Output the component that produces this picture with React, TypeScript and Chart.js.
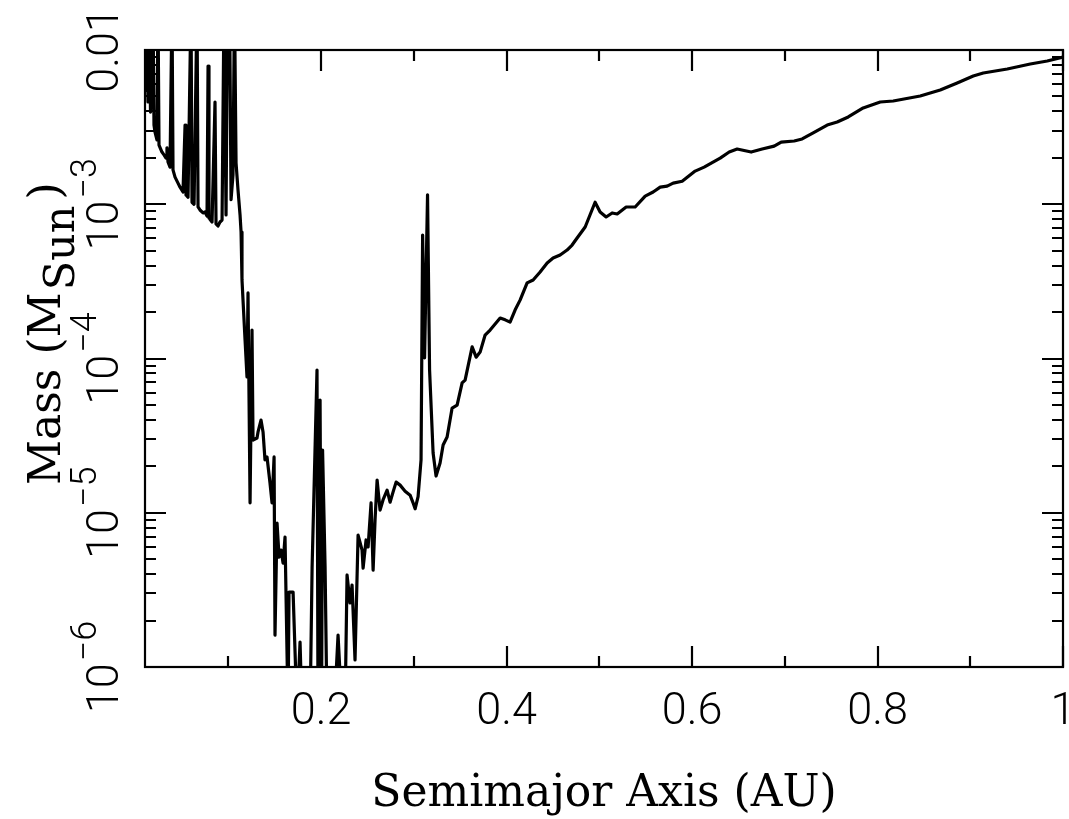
import React, { useEffect, useRef } from 'react';
import { Chart, registerables } from 'chart.js';

Chart.register(...registerables);

// Semimajor axis (AU)
const SEMIMAJOR_AXIS_AU = [
  0.0105, 0.0122, 0.0132, 0.0149, 0.0159, 0.0176, 0.0186, 0.0197, 0.0208, 0.0229,
  0.0240, 0.0251, 0.0283, 0.0305, 0.0327, 0.0337, 0.0348, 0.0370, 0.0391, 0.0402,
  0.0424, 0.0456, 0.0478, 0.0510, 0.0532, 0.0542, 0.0564, 0.0596, 0.0607, 0.0629,
  0.0661, 0.0672, 0.0693, 0.0726, 0.0747, 0.0769, 0.0780, 0.0790, 0.0823, 0.0855,
  0.0866, 0.0887, 0.0909, 0.0931, 0.0952, 0.0974, 0.0990, 0.1001, 0.1012, 0.1028,
  0.1049, 0.1065, 0.1082, 0.1103, 0.1125, 0.1136, 0.1146, 0.1179, 0.1200, 0.1211,
  0.1233, 0.1254, 0.1265, 0.1308, 0.1319, 0.1351, 0.1373, 0.1394, 0.1416, 0.1448,
  0.1470, 0.1492, 0.1502, 0.1524, 0.1546, 0.1567, 0.1589, 0.1610, 0.1643, 0.1653,
  0.1697, 0.1740, 0.1772, 0.1794, 0.1880, 0.1902, 0.1955, 0.1966, 0.1988, 0.2004,
  0.2015, 0.2042, 0.2063, 0.2139, 0.2182, 0.2225, 0.2257, 0.2279, 0.2311, 0.2333,
  0.2365, 0.2398, 0.2441, 0.2452, 0.2484, 0.2506, 0.2538, 0.2560, 0.2581, 0.2603,
  0.2635, 0.2667, 0.2711, 0.2743, 0.2775, 0.2808, 0.2851, 0.2905, 0.2959, 0.2991,
  0.3013, 0.3045, 0.3077, 0.3094, 0.3115, 0.3147, 0.3169, 0.3207, 0.3239, 0.3282,
  0.3315, 0.3358, 0.3412, 0.3466, 0.3520, 0.3552, 0.3628, 0.3671, 0.3714, 0.3768,
  0.3822, 0.3930, 0.3984, 0.4037, 0.4091, 0.4145, 0.4221, 0.4286, 0.4361, 0.4437,
  0.4501, 0.4577, 0.4652, 0.4706, 0.4760, 0.4847, 0.4954, 0.5008, 0.5073, 0.5138,
  0.5192, 0.5289, 0.5386, 0.5494, 0.5580, 0.5656, 0.5731, 0.5796, 0.5893, 0.6033,
  0.6130, 0.6303, 0.6400, 0.6486, 0.6637, 0.6756, 0.6885, 0.6961, 0.7101, 0.7187,
  0.7306, 0.7457, 0.7565, 0.7684, 0.7845, 0.8029, 0.8169, 0.8460, 0.8676, 0.8859,
  0.9032, 0.9140, 0.9399, 0.9647, 0.9830, 1.0000,
];

// Mass (M_Sun)
const MASS_MSUN = [
  5.34e-3, 2.0e-2, 4.60e-3, 2.0e-2, 3.96e-3, 5.93e-3, 2.0e-2, 3.26e-3, 2.94e-3, 2.61e-3,
  2.0e-2, 2.42e-3, 2.18e-3, 2.09e-3, 1.99e-3, 2.32e-3, 1.88e-3, 1.74e-3, 2.0e-2, 1.67e-3,
  1.50e-3, 1.37e-3, 1.29e-3, 1.20e-3, 3.26e-3, 1.15e-3, 1.11e-3, 2.0e-2, 1.03e-3, 1.00e-3,
  2.0e-2, 9.60e-4, 9.18e-4, 8.78e-4, 8.91e-4, 8.39e-4, 7.87e-3, 8.14e-4, 7.67e-4, 4.60e-3,
  7.45e-4, 7.23e-4, 7.67e-4, 7.90e-4, 2.0e-2, 8.52e-4, 2.0e-2, 8.36e-3, 2.0e-2, 1.07e-3,
  1.55e-3, 2.0e-2, 1.85e-3, 1.24e-3, 8.52e-4, 6.61e-4, 3.23e-4, 1.32e-4, 7.59e-5, 2.66e-4,
  1.16e-5, 1.53e-4, 2.96e-5, 3.05e-5, 3.34e-5, 3.99e-5, 3.34e-5, 2.20e-5, 2.30e-5, 1.56e-5,
  1.16e-5, 2.30e-5, 1.61e-6, 8.58e-6, 5.16e-6, 5.73e-6, 4.72e-6, 6.96e-6, 5.0e-7, 3.06e-6,
  3.06e-6, 5.0e-7, 1.45e-6, 5.0e-7, 5.0e-7, 4.38e-6, 8.42e-5, 5.0e-7, 5.38e-5, 5.0e-7,
  2.55e-5, 4.45e-6, 5.0e-7, 5.0e-7, 1.61e-6, 5.0e-7, 5.0e-7, 3.95e-6, 2.60e-6, 3.40e-6,
  1.11e-6, 7.17e-6, 5.73e-6, 4.38e-6, 6.66e-6, 6.00e-6, 1.16e-5, 4.25e-6, 8.97e-6, 1.63e-5,
  1.04e-5, 1.21e-5, 1.40e-5, 1.17e-5, 1.36e-5, 1.58e-5, 1.51e-5, 1.38e-5, 1.30e-5, 1.16e-5,
  1.06e-5, 1.27e-5, 2.20e-5, 6.32e-4, 1.01e-4, 1.15e-3, 8.42e-5, 2.44e-5, 1.73e-5, 2.10e-5,
  2.75e-5, 3.10e-5, 4.77e-5, 4.99e-5, 6.94e-5, 7.25e-5, 1.19e-4, 1.02e-4, 1.10e-4, 1.42e-4,
  1.53e-4, 1.83e-4, 1.78e-4, 1.72e-4, 2.06e-4, 2.39e-4, 3.09e-4, 3.23e-4, 3.64e-4, 4.16e-4,
  4.48e-4, 4.69e-4, 5.05e-4, 5.44e-4, 6.04e-4, 7.12e-4, 1.03e-3, 8.91e-4, 8.27e-4, 8.78e-4,
  8.65e-4, 9.60e-4, 9.60e-4, 1.13e-3, 1.20e-3, 1.29e-3, 1.31e-3, 1.37e-3, 1.41e-3, 1.64e-3,
  1.74e-3, 1.99e-3, 2.18e-3, 2.28e-3, 2.18e-3, 2.28e-3, 2.38e-3, 2.53e-3, 2.57e-3, 2.65e-3,
  2.90e-3, 3.26e-3, 3.41e-3, 3.68e-3, 4.21e-3, 4.60e-3, 4.67e-3, 5.03e-3, 5.50e-3, 6.11e-3,
  6.78e-3, 7.09e-3, 7.53e-3, 8.11e-3, 8.49e-3, 9.01e-3,
];

const X_MIN = 0.01;
const X_MAX = 1;
const Y_MIN = 1e-6;
const Y_MAX = 1e-2;

const X_MAJOR_TICKS = [0.2, 0.4, 0.6, 0.8, 1.0];
const X_TICK_LABELS = ['0.2', '0.4', '0.6', '0.8', '1'];
const X_MINOR_TICKS = [0.1, 0.3, 0.5, 0.7, 0.9];

const Y_MAJOR_TICKS = [1e-2, 1e-3, 1e-4, 1e-5, 1e-6];
const Y_TICK_BASE = ['0.01', '10', '10', '10', '10'];
const Y_TICK_EXP = ['', '\u22123', '\u22124', '\u22125', '\u22126'];
const Y_MINOR_MULTIPLIERS = [2, 3, 4, 5, 6, 7, 8, 9];
const Y_MINOR_DECADES = [1e-6, 1e-5, 1e-4, 1e-3];

const X_TITLE = 'Semimajor Axis (AU)';
const Y_TITLE_MAIN = 'Mass (M';
const Y_TITLE_SUB = 'Sun';
const Y_TITLE_END = ')';

const TICK_FONT = '300 45px Roboto, "Liberation Sans", sans-serif';
const TICK_FONT_SMALL = '300 36px Roboto, "Liberation Sans", sans-serif';
const TITLE_FONT = '44px "DejaVu Serif", serif';
const TITLE_FONT_SUB = '43px "DejaVu Serif", serif';

const framePlugin = {
  id: 'pgframe',
  afterDatasetsDraw(chart: any) {
    const { ctx, chartArea, scales } = chart;
    const { left, right, top, bottom } = chartArea;
    const xs = scales.x;
    const ys = scales.y;
    ctx.save();
    ctx.strokeStyle = '#000';
    ctx.fillStyle = '#000';
    ctx.lineWidth = 2.2;
    ctx.lineCap = 'butt';
    ctx.strokeRect(left, top, right - left, bottom - top);

    const MAJOR = 21;
    const MINOR = 11;
    ctx.beginPath();
    const xTick = (v: number, len: number) => {
      const px = Math.round(xs.getPixelForValue(v));
      ctx.moveTo(px, bottom);
      ctx.lineTo(px, bottom - len);
      ctx.moveTo(px, top);
      ctx.lineTo(px, top + len);
    };
    X_MAJOR_TICKS.forEach((v) => xTick(v, MAJOR));
    X_MINOR_TICKS.forEach((v) => xTick(v, MINOR));
    const yTick = (v: number, len: number) => {
      const py = Math.round(ys.getPixelForValue(v));
      ctx.moveTo(left, py);
      ctx.lineTo(left + len, py);
      ctx.moveTo(right, py);
      ctx.lineTo(right - len, py);
    };
    Y_MAJOR_TICKS.forEach((v) => yTick(v, MAJOR));
    Y_MINOR_DECADES.forEach((d) => Y_MINOR_MULTIPLIERS.forEach((k) => yTick(k * d, MINOR)));
    ctx.stroke();

    // x tick labels
    ctx.font = TICK_FONT;
    ctx.textAlign = 'center';
    ctx.textBaseline = 'alphabetic';
    X_MAJOR_TICKS.forEach((v, i) => {
      const px = xs.getPixelForValue(v);
      ctx.fillText(X_TICK_LABELS[i], px, bottom + 57);
    });

    // y tick labels (rotated, reading upward)
    Y_MAJOR_TICKS.forEach((v, i) => {
      const py = ys.getPixelForValue(v);
      ctx.save();
      ctx.translate(left - 27, py);
      ctx.rotate(-Math.PI / 2);
      ctx.textAlign = 'left';
      ctx.font = TICK_FONT;
      const wb = ctx.measureText(Y_TICK_BASE[i]).width;
      ctx.font = TICK_FONT_SMALL;
      const we = Y_TICK_EXP[i] ? ctx.measureText(Y_TICK_EXP[i]).width + 2 : 0;
      const start = -(wb + we) / 2;
      ctx.font = TICK_FONT;
      ctx.fillText(Y_TICK_BASE[i], start, 0);
      if (Y_TICK_EXP[i]) {
        ctx.font = TICK_FONT_SMALL;
        ctx.fillText(Y_TICK_EXP[i], start + wb + 2, -22);
      }
      ctx.restore();
    });

    // x title
    ctx.font = TITLE_FONT;
    ctx.textAlign = 'center';
    ctx.fillText(X_TITLE, (left + right) / 2, 806);

    // y title
    ctx.save();
    ctx.translate(60, 485);
    ctx.rotate(-Math.PI / 2);
    ctx.textAlign = 'left';
    ctx.font = TITLE_FONT;
    ctx.fillText(Y_TITLE_MAIN, 0, 0);
    let w = ctx.measureText(Y_TITLE_MAIN).width;
    ctx.font = TITLE_FONT_SUB;
    ctx.fillText(Y_TITLE_SUB, w + 2, 14);
    w += ctx.measureText(Y_TITLE_SUB).width + 8;
    ctx.font = TITLE_FONT;
    ctx.fillText(Y_TITLE_END, w, 0);
    ctx.restore();

    ctx.restore();
  },
};

export default function App() {
  const ref = useRef<HTMLCanvasElement | null>(null);
  useEffect(() => {
    if (!ref.current) return;
    const chart = new Chart(ref.current, {
      type: 'line',
      data: {
        datasets: [
          {
            data: SEMIMAJOR_AXIS_AU.map((a, i) => ({ x: a, y: MASS_MSUN[i] })),
            borderColor: '#000',
            borderWidth: 3.2,
            borderJoinStyle: 'round',
            pointRadius: 0,
            tension: 0,
            fill: false,
            clip: 0,
          } as any,
        ],
      },
      options: {
        animation: false,
        responsive: false,
        devicePixelRatio: 1,
        layout: { padding: { left: 145, top: 50, right: 6, bottom: 152 } },
        plugins: { legend: { display: false }, tooltip: { enabled: false } },
        scales: {
          x: { type: 'linear', min: X_MIN, max: X_MAX, display: false },
          y: { type: 'logarithmic', min: Y_MIN, max: Y_MAX, display: false },
        },
      },
      plugins: [framePlugin],
    });
    return () => chart.destroy();
  }, []);
  return (
    <div style={{ position: 'absolute', left: 0, top: 0, width: 1069, height: 819, background: '#fff' }}>
      <canvas ref={ref} width={1069} height={819} />
    </div>
  );
}
